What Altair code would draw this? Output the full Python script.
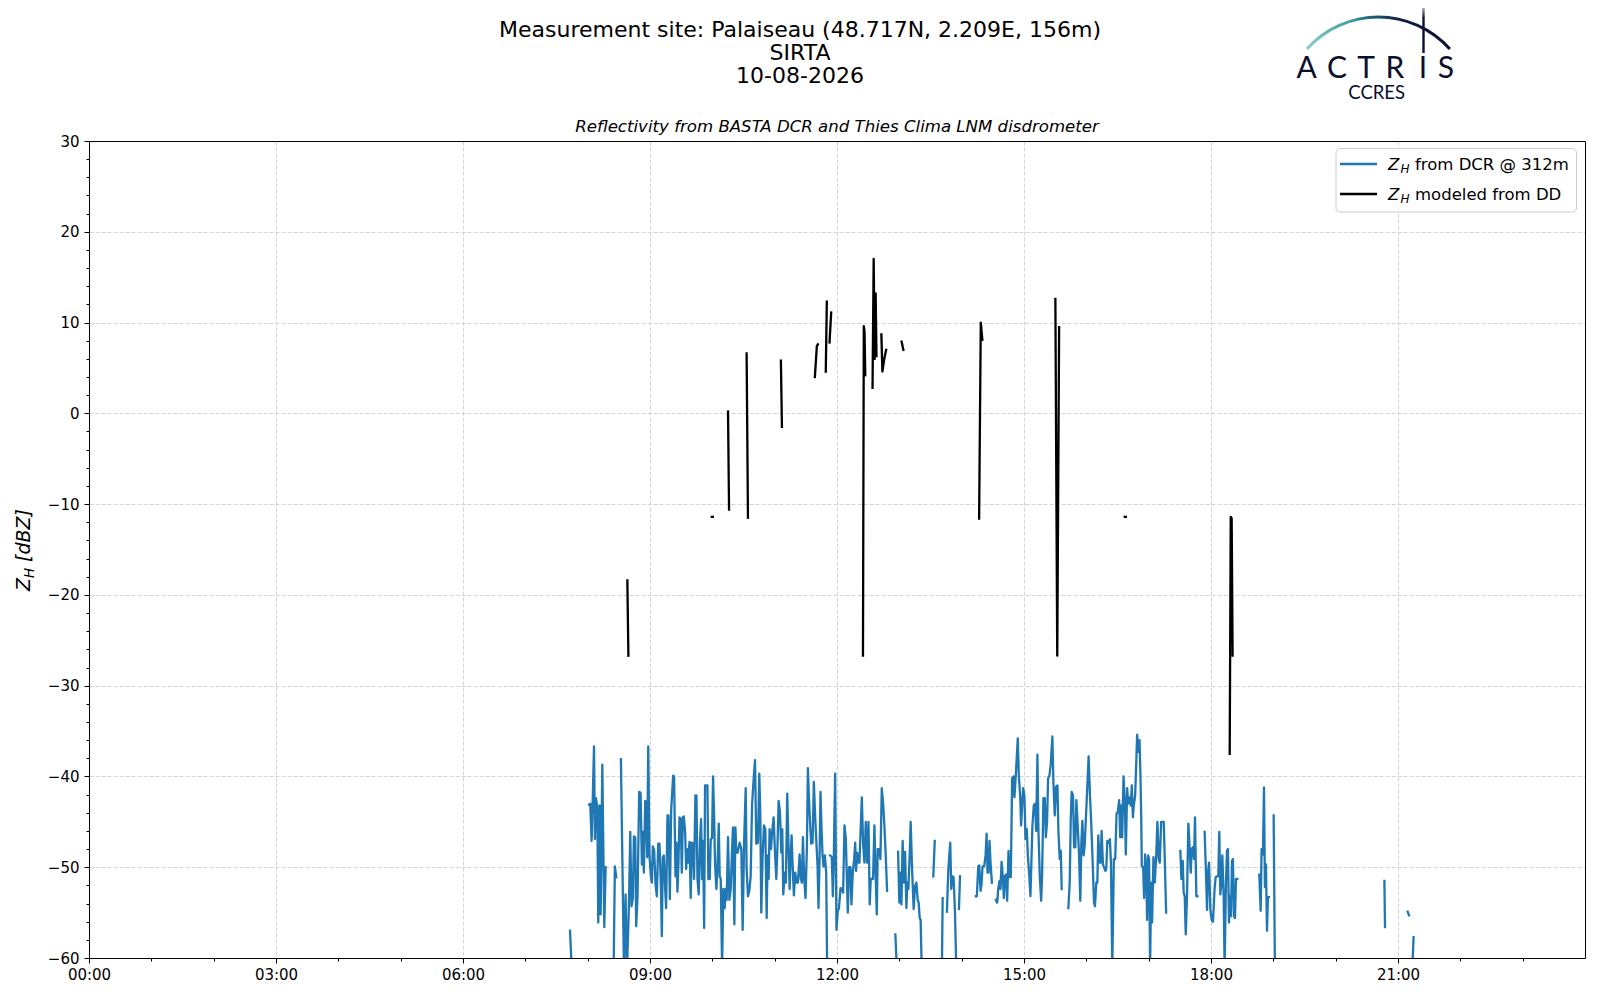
import altair as alt
import pandas as pd

# ---------------- data ----------------
# Z_H from the BASTA DCR at 312 m: time in minutes after 00:00, one inner list per unbroken stretch
dcr_minutes = [
    [463.0, 464.6],
    [481.3, 482.5, 483.8, 484.8, 486.1, 487.0, 488.0, 489.3, 490.2, 491.5, 492.5, 494.1, 496.0, 497.3],
    [505.0, 506.2, 507.5],
    [512.0, 514.9, 516.5, 517.8, 519.7, 521.0, 522.2, 523.5, 524.5, 525.8,
     526.7, 528.0, 529.6, 530.9, 532.2, 533.1, 534.1, 535.4, 536.3, 537.3,
     538.3, 539.5, 540.8, 541.8, 542.7, 544.0, 545.3, 546.6, 547.9, 549.1,
     550.4, 551.4, 552.3, 553.3, 554.6, 555.5, 556.8, 557.8, 559.1, 560.4,
     562.3, 563.2, 564.5, 565.5, 566.4, 567.4, 568.4, 569.6, 570.6, 571.6,
     572.5, 573.8, 574.8, 575.7, 576.7, 578.0, 579.2, 580.2, 581.5, 582.4,
     583.7, 584.7, 585.7, 586.9, 588.2, 589.2, 590.1, 591.1, 592.1, 593.0,
     595.3, 596.2, 597.5, 598.5, 599.7, 600.7, 601.7, 602.6, 603.9, 604.9,
     606.2, 607.1, 608.1, 609.4, 610.6, 611.9, 612.9, 613.8, 615.1, 616.4,
     617.7, 619.0, 619.9, 621.2, 622.2, 623.1, 624.4, 626.3, 627.9, 629.2,
     630.5, 632.1, 633.0, 634.3, 635.6, 636.9, 638.2, 639.8, 641.1, 642.3,
     643.9, 645.2, 646.2, 647.1, 648.4, 649.7, 651.0, 652.3, 653.2, 654.2,
     655.1, 656.4, 657.7, 659.0, 660.3, 661.6, 662.8, 663.8, 665.1, 666.4,
     667.3, 668.3, 669.6, 670.8, 672.1, 673.4, 674.4, 675.3, 676.3, 677.2,
     678.5, 679.8, 681.1, 682.4, 684.0, 685.2, 686.2, 687.2, 688.4, 689.7,
     691.0, 692.0, 692.9, 694.2, 695.2, 696.5, 697.7, 699.0, 700.3, 701.3,
     702.2, 703.2, 704.1, 705.1, 706.1, 707.0, 708.3, 709.6, 710.5],
    [713.4, 715.0, 716.0, 716.9, 718.2, 719.5, 720.8, 721.8, 723.4, 724.6,
     725.9, 727.2, 728.5, 730.4, 731.7, 733.0, 733.9, 735.2, 736.5, 737.5,
     738.4, 739.4, 740.7, 741.6, 742.9, 743.9, 745.1, 746.4, 747.7, 749.0,
     750.3, 751.5, 752.5, 753.5, 754.7, 756.0, 757.3, 758.3, 759.2, 760.5,
     761.8, 763.1, 764.4, 765.6, 766.9, 768.2],
    [776.2, 777.5],
    [778.8, 780.0, 781.3, 782.0, 783.2, 784.2, 785.5, 786.8, 787.7, 788.7,
     790.0, 790.9, 792.2, 793.8, 795.1, 796.4, 797.7, 798.6, 799.6, 800.5, 801.5],
    [812.7, 814.1],
    [821.0, 821.7],
    [825.8, 827.1, 828.1, 829.0, 830.0, 831.0, 832.2, 833.5, 834.8],
    [837.4, 838.4],
    [853.7, 854.6, 856.0, 856.9, 858.2, 859.1, 860.1, 861.7, 863.0, 864.0, 864.9, 865.9, 866.8, 867.8, 869.1],
    [872.9, 874.2, 875.2, 876.4, 877.4, 878.4, 879.6, 880.6, 881.6, 882.8,
     883.8, 885.1, 886.4, 887.3, 888.6, 889.9, 890.8, 892.1, 894.0, 895.0,
     896.3, 897.2, 898.2, 899.2, 900.4, 901.4, 902.7, 903.7, 904.9, 906.2,
     907.2, 908.1, 909.4, 910.7, 911.7, 912.9, 913.9, 915.2, 916.5, 917.4,
     918.7, 920.0, 921.0, 922.2, 923.2, 924.5, 925.7, 927.3, 928.3, 929.6,
     930.9, 932.2, 933.1, 934.4, 935.4, 936.3],
    [942.7, 944.0, 945.0, 945.9, 947.2, 948.2, 949.4, 950.4, 951.7, 953.0,
     954.2, 955.2, 956.2, 957.4, 958.4, 959.7, 961.0, 962.2, 963.5, 964.8,
     966.1, 967.4, 968.3, 969.6, 970.6, 971.5, 972.8, 973.8, 974.7, 976.0,
     977.0, 978.3, 979.2, 980.2, 981.5, 982.7, 983.7, 985.0, 986.5, 987.8,
     989.1, 990.3, 991.6, 992.6, 993.5, 994.5, 995.8, 997.1, 998.0, 999.3,
     1000.3, 1001.5, 1002.8, 1003.8, 1004.8, 1005.7, 1007.0, 1008.0, 1008.9, 1010.2,
     1011.2, 1012.1, 1012.8, 1013.4, 1014.7, 1015.6, 1016.6, 1017.6, 1018.5, 1019.5,
     1020.4, 1021.4, 1022.4, 1023.3, 1024.6, 1025.9, 1027.2, 1028.4, 1029.7, 1030.7,
     1032.0, 1033.3, 1034.5, 1035.5, 1036.8],
    [1050.5, 1051.5, 1052.8, 1053.7, 1054.7, 1055.7, 1056.9, 1058.2, 1059.5, 1060.5,
     1061.4, 1062.4, 1063.7, 1064.6, 1065.9, 1066.9],
    [1073.9, 1075.2, 1076.2, 1077.1, 1078.1, 1079.4, 1080.6, 1081.9, 1083.5, 1084.5,
     1085.8, 1087.0, 1088.0, 1089.0, 1089.9, 1090.9, 1092.2, 1093.1, 1094.4, 1095.4,
     1096.3, 1097.3, 1098.2, 1099.2, 1100.2, 1101.1, 1102.1, 1103.1, 1104.0, 1105.3],
    [1126.5, 1127.8, 1128.7, 1130.0, 1131.0, 1131.9, 1132.9, 1133.9, 1134.8, 1135.8],
    [1140.3, 1141.5],
    [1246.9, 1247.5],
    [1269.3, 1270.6],
    [1273.8, 1275.0],
]
dcr_dbz = [
    [-57.0, -61.0],
    [-43.1, -43.0, -47.1, -42.9, -36.7, -46.9, -42.4, -43.4, -56.1, -43.2, -55.2, -38.7, -56.6, -50.0],
    [-61.0, -49.9, -51.1],
    [-38.1, -61.0, -53.0, -61.5, -54.3, -46.1, -54.3, -53.4, -46.6, -46.7,
     -56.5, -53.2, -41.7, -41.8, -49.7, -46.1, -50.6, -42.7, -42.8, -48.9,
     -36.7, -48.7, -51.0, -51.7, -47.7, -48.1, -51.9, -53.2, -47.4, -47.4,
     -51.7, -57.6, -48.9, -48.7, -52.4, -54.5, -44.3, -44.3, -53.5, -43.7,
     -39.9, -40.0, -51.0, -47.3, -52.7, -49.5, -44.5, -44.7, -50.6, -44.5,
     -44.4, -46.1, -50.2, -48.0, -49.5, -47.2, -53.4, -47.3, -47.4, -51.3,
     -42.1, -42.1, -51.3, -53.0, -46.9, -44.7, -51.3, -47.1, -56.7, -41.0,
     -41.0, -51.3, -51.3, -46.9, -46.8, -40.0, -44.3, -49.5, -52.4, -50.2,
     -45.2, -51.0, -51.3, -61.0, -52.4, -54.5, -52.4, -53.6, -46.7, -53.6,
     -52.4, -48.0, -45.6, -56.3, -45.6, -48.4, -48.4, -47.3, -48.0, -56.9,
     -47.6, -41.3, -50.2, -53.2, -52.6, -51.0, -43.2, -40.2, -38.2, -47.4,
     -47.3, -39.7, -44.3, -55.0, -48.7, -45.4, -45.8, -55.6, -48.7, -51.3,
     -45.8, -48.0, -46.0, -44.5, -48.4, -51.3, -47.3, -42.7, -43.9, -48.4,
     -45.8, -53.0, -50.6, -51.7, -41.9, -48.0, -52.4, -49.1, -46.5, -49.5,
     -53.1, -50.6, -51.7, -51.7, -48.6, -51.3, -51.7, -46.7, -51.3, -53.4,
     -48.0, -39.1, -42.1, -45.4, -47.4, -47.3, -40.6, -44.5, -47.6, -49.9,
     -54.5, -49.1, -41.7, -45.8, -48.7, -49.9, -48.7, -50.6, -61.0],
    [-48.7, -48.9, -53.2, -49.1, -39.7, -56.9, -54.7, -54.6, -52.3, -52.4,
     -52.8, -45.4, -46.9, -55.0, -50.0, -50.0, -54.1, -50.6, -49.1, -47.3,
     -50.4, -48.4, -49.5, -49.5, -45.4, -42.3, -47.3, -49.5, -45.0, -49.5,
     -45.0, -54.1, -51.3, -51.3, -51.3, -45.4, -51.3, -55.2, -48.0, -48.0,
     -49.1, -41.3, -43.0, -45.4, -48.7, -52.6],
    [-57.4, -61.0],
    [-48.3, -53.9, -50.6, -54.1, -47.1, -51.7, -48.3, -54.5, -51.7, -52.4,
     -48.6, -45.0, -50.0, -54.6, -52.1, -51.7, -53.6, -53.9, -55.6, -55.8, -61.0],
    [-51.0, -47.1],
    [-61.0, -53.4],
    [-54.9, -50.4, -48.7, -47.3, -52.4, -51.0, -51.1, -54.7, -61.0],
    [-54.6, -51.0],
    [-53.2, -53.2, -49.9, -49.8, -52.6, -51.9, -49.9, -49.9, -48.7, -46.3, -50.6, -50.6, -47.1, -49.5, -51.7],
    [-53.6, -53.9, -52.4, -51.5, -52.4, -49.4, -51.0, -53.4, -51.0, -50.8,
     -53.7, -48.2, -51.1, -51.1, -40.2, -40.0, -42.3, -39.9, -35.8, -39.9,
     -42.1, -45.4, -43.2, -41.3, -42.1, -46.9, -45.8, -48.7, -50.6, -53.2,
     -49.1, -45.4, -43.2, -43.0, -46.0, -37.6, -46.0, -51.0, -53.7, -51.0,
     -42.4, -42.4, -46.7, -45.0, -40.2, -39.9, -38.7, -35.6, -40.6, -44.3,
     -41.1, -41.0, -46.0, -49.1, -48.2, -52.4],
    [-54.5, -51.7, -44.7, -41.7, -42.1, -47.8, -47.8, -42.6, -45.4, -48.7,
     -53.7, -47.3, -44.9, -48.7, -47.6, -44.3, -41.0, -37.8, -42.1, -45.4,
     -49.5, -53.9, -54.3, -51.7, -51.7, -46.5, -49.5, -49.5, -46.0, -49.7,
     -50.0, -50.4, -50.2, -47.1, -47.3, -46.9, -49.5, -61.0, -49.1, -49.1,
     -44.1, -43.9, -42.6, -46.7, -43.2, -46.7, -40.0, -42.8, -48.6, -41.3,
     -43.0, -42.3, -43.2, -41.0, -44.5, -43.2, -42.1, -38.7, -35.4, -37.3,
     -36.0, -39.9, -44.3, -49.9, -50.0, -53.4, -48.6, -49.9, -55.8, -48.7,
     -49.1, -61.0, -51.7, -56.1, -48.9, -51.7, -48.9, -45.0, -49.1, -49.5,
     -45.0, -45.0, -45.0, -49.1, -55.0],
    [-48.2, -51.3, -49.3, -52.8, -53.2, -57.4, -53.2, -45.2, -48.0, -50.6,
     -48.0, -47.8, -49.1, -44.5, -53.2, -53.2],
    [-46.1, -50.8, -54.7, -50.6, -49.5, -54.7, -55.8, -56.0, -52.3, -51.1,
     -51.0, -51.0, -46.1, -53.0, -51.7, -48.7, -53.2, -61.0, -51.7, -48.2,
     -48.0, -56.1, -53.2, -55.4, -49.3, -49.1, -55.4, -55.6, -51.3, -51.3],
    [-50.8, -54.8, -48.0, -48.6, -41.2, -52.2, -49.7, -57.0, -53.3, -53.3],
    [-44.3, -61.0],
    [-51.5, -56.6],
    [-54.9, -55.3],
    [-61.0, -57.7],
]

# Z_H modeled from the disdrometer (DD)
dd_minutes = [
    [518.2, 519.2],
    [599.5, 600.5],
    [615.1, 616.1],
    [633.0, 634.3],
    [666.0, 667.0],
    [698.7, 700.6, 701.6],
    [709.2, 710.2],
    [712.8, 714.4],
    [745.0, 745.8, 746.5, 747.2],
    [754.2, 755.3, 756.3, 757.2, 758.0],
    [762.7, 763.7, 765.5, 767.3],
    [782.2, 783.9],
    [856.8, 858.4, 859.9],
    [930.2, 932.0, 933.8],
    [997.0, 998.0],
    [1098.0, 1099.0, 1099.9, 1100.8],
]
dd_dbz = [
    [-18.4, -26.7],
    [-11.4, -11.4],
    [0.2, -10.6],
    [6.6, -11.5],
    [5.8, -1.5],
    [4.0, 7.4, 7.6],
    [4.6, 12.3],
    [7.8, 11.1],
    [-26.7, 9.6, 9.0, 4.2],
    [2.8, 17.0, 6.0, 13.2, 6.3],
    [8.7, 4.6, 6.0, 7.0],
    [7.9, 7.0],
    [-11.6, 10.0, 8.1],
    [12.6, -26.7, 9.5],
    [-11.4, -11.4],
    [-37.5, -11.4, -11.6, -26.7],
]

x_major_hours = [0, 3, 6, 9, 12, 15, 18, 21]
x_minor_hours = [1, 2, 4, 5, 7, 8, 10, 11, 13, 14, 16, 17, 19, 20, 22, 23]
y_major = [-60, -50, -40, -30, -20, -10, 0, 10, 20, 30]
y_minor = [-58, -56, -54, -52, -48, -46, -44, -42, -38, -36, -34, -32,
           -28, -26, -24, -22, -18, -16, -14, -12, -8, -6, -4, -2,
           2, 4, 6, 8, 12, 14, 16, 18, 22, 24, 26, 28]

title_lines = ["Measurement site: Palaiseau (48.717N, 2.209E, 156m)", "SIRTA", "10-08-2026"]
subtitle = "Reflectivity from BASTA DCR and Thies Clima LNM disdrometer"
legend_labels = ["from DCR @ 312m", "modeled from DD"]
ylabel_unit = "[dBZ]"


def frame(minutes, values):
    rows = []
    for seg, (ts, zs) in enumerate(zip(minutes, values)):
        assert len(ts) == len(zs)
        for t, z in zip(ts, zs):
            rows.append({"hour": t / 60.0, "dbz": z, "seg": seg})
    return pd.DataFrame(rows)


dcr_df = frame(dcr_minutes, dcr_dbz)
dd_df = frame(dd_minutes, dd_dbz)

W, H = 1496, 817
FONT = "DejaVu Sans"
BLUE = "#1f77b4"
NAVY = "#0b0f2e"
LW = 2.3

xs = alt.Scale(domain=[0, 24], nice=False, zero=False)
ys = alt.Scale(domain=[-60, 30], nice=False, zero=False)

ax_x = alt.Axis(orient="bottom", values=x_major_hours,
                labelExpr="(datum.value < 10 ? '0' : '') + datum.value + ':00'",
                title=None, grid=True, gridColor="#d3d3d3", gridDash=[4, 2], gridWidth=1,
                domain=False, tickColor="black", tickSize=5, tickWidth=1,
                labelFont=FONT, labelFontSize=15, labelColor="black", labelPadding=4,
                labelFlush=False, labelOverlap=False)
ax_y = alt.Axis(orient="left", values=y_major,
                labelExpr="datum.value < 0 ? '\u2212' + (-datum.value) : '' + datum.value",
                title=None, grid=True, gridColor="#d3d3d3", gridDash=[4, 2], gridWidth=1,
                domain=False, tickColor="black", tickSize=5, tickWidth=1,
                labelFont=FONT, labelFontSize=15, labelColor="black", labelPadding=5,
                labelFlush=False, labelOverlap=False)
ax_x_minor = alt.Axis(orient="bottom", values=x_minor_hours, labels=False, grid=False,
                      domain=False, ticks=True, tickSize=3, tickColor="black", tickWidth=1, title=None)
ax_y_minor = alt.Axis(orient="left", values=y_minor, labels=False, grid=False,
                      domain=False, ticks=True, tickSize=3, tickColor="black", tickWidth=1, title=None)

dcr_line = alt.Chart(dcr_df).mark_line(
    color=BLUE, strokeWidth=LW, clip=True, strokeJoin="round", strokeCap="square"
).encode(
    x=alt.X("hour:Q", scale=xs, axis=ax_x),
    y=alt.Y("dbz:Q", scale=ys, axis=ax_y),
    detail="seg:N",
)

dd_line = alt.Chart(dd_df).mark_line(
    color="black", strokeWidth=LW, clip=True, strokeJoin="round", strokeCap="square"
).encode(
    x=alt.X("hour:Q", scale=xs, axis=ax_x_minor),
    y=alt.Y("dbz:Q", scale=ys, axis=ax_y_minor),
    detail="seg:N",
)

one = alt.Data(values=[{"k": 0}])


def txt(s, x, y, size, **kw):
    props = dict(text=s, font=FONT, fontSize=size, color="black", align="left", baseline="alphabetic")
    props.update(kw)
    return alt.Chart(one).mark_text(**props).encode(x=alt.value(x), y=alt.value(y))


layers = [dcr_line, dd_line]

# frame (drawn on top like matplotlib spines)
layers.append(alt.Chart(one).mark_rect(fillOpacity=0, stroke="black", strokeWidth=1).encode(
    x=alt.value(0.5), x2=alt.value(W + 0.5), y=alt.value(0.5), y2=alt.value(H + 0.5)))

# titles
layers.append(txt(title_lines[0], 711, -104, 22, align="center"))
layers.append(txt(title_lines[1], 711, -81, 22, align="center"))
layers.append(txt(title_lines[2], 711, -58, 22, align="center"))
layers.append(txt(subtitle, W / 2, -9, 16.6, align="center", fontStyle="italic"))

# y label  Z_H [dBZ]
layers.append(txt("Z", -59, 450, 19, angle=270, fontStyle="italic"))
layers.append(txt("H", -55.5, 437, 13.3, angle=270, fontStyle="italic"))
layers.append(txt(ylabel_unit, -59, 421, 19, angle=270, fontStyle="italic"))

# legend
layers.append(alt.Chart(one).mark_rect(fill="white", fillOpacity=0.8, stroke="#cccccc",
                                       strokeWidth=1, cornerRadius=4).encode(
    x=alt.value(1247), x2=alt.value(1487.5), y=alt.value(7.5), y2=alt.value(71)))
for i, (col, lab) in enumerate(zip([BLUE, "black"], legend_labels)):
    yrow = 23 + 30 * i
    layers.append(alt.Chart(one).mark_rule(color=col, strokeWidth=LW).encode(
        x=alt.value(1251), x2=alt.value(1288), y=alt.value(yrow)))
    layers.append(txt("Z", 1299, yrow + 6, 16.5, fontStyle="italic"))
    layers.append(txt("H", 1311.5, yrow + 8.5, 12, fontStyle="italic"))
    layers.append(txt(lab, 1326, yrow + 6, 16.5))

# ACTRIS / CCRES logo
arc_grad = {"gradient": "linear", "x1": 0, "y1": 0, "x2": 1, "y2": 0,
            "stops": [{"offset": 0, "color": "#8ad0c9"}, {"offset": 0.3, "color": "#3f9fa3"},
                      {"offset": 0.46, "color": "#1b5e74"}, {"offset": 0.65, "color": "#111d40"},
                      {"offset": 1, "color": NAVY}]}
layers.append(alt.Chart(one).mark_arc(radius=97.5, radius2=94.5, theta=5.443, theta2=7.123,
                                      fill=arc_grad).encode(x=alt.value(1289.4), y=alt.value(-28)))
bar_grad = {"gradient": "linear", "x1": 0, "y1": 0, "x2": 0, "y2": 1,
            "stops": [{"offset": 0, "color": "#eeeef4"}, {"offset": 0.3, "color": NAVY},
                      {"offset": 1, "color": NAVY}]}
layers.append(alt.Chart(one).mark_rect(fill=bar_grad).encode(
    x=alt.value(1333.3), x2=alt.value(1335.7), y=alt.value(-138), y2=alt.value(-88)))
for letter, lx in zip("ACTRIS", [1217.7, 1248, 1277, 1306, 1334, 1357]):
    layers.append(txt(letter, lx, -62.7, 30, align="center", font="Lato", color=NAVY))
layers.append(txt("CCRES", 1287.7, -41.7, 18.5, align="center", font="Lato", color=NAVY))

chart = alt.layer(*layers).resolve_axis(x="independent", y="independent").properties(
    width=W, height=H,
    autosize=alt.AutoSizeParams(type="none"),
    padding={"left": 81, "top": 133, "right": 5, "bottom": 30},
).configure_view(strokeWidth=0)

chart.save("out.html", embed_options={"renderer": "svg", "actions": False})
